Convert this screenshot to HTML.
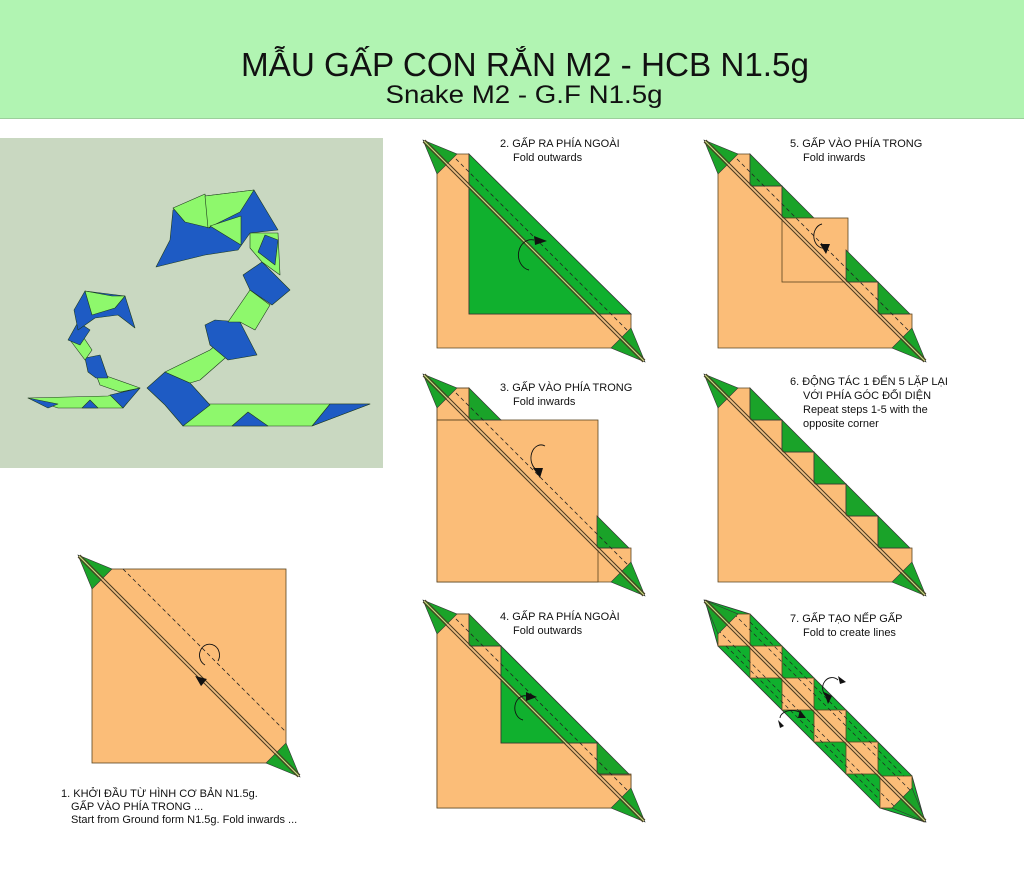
<!DOCTYPE html>
<html><head><meta charset="utf-8"><style>
html,body{margin:0;padding:0;background:#fff}
svg{display:block}
text{font-family:"Liberation Sans","Noto Sans CJK SC",sans-serif;fill:#111}
</style></head><body>
<svg width="1024" height="874" viewBox="0 0 1024 874" xmlns="http://www.w3.org/2000/svg">
<defs>
<g id="tips">
  <polygon points="-14,-14 20,0 0,20" fill="#1aa329" stroke="#333" stroke-width="0.6"/>
  <polygon points="208,208 194,174 174,194" fill="#1aa329" stroke="#333" stroke-width="0.6"/>
  <line x1="-12" y1="-14" x2="208" y2="206" stroke="#4a3a20" stroke-width="1"/>
  <line x1="-14" y1="-12" x2="206" y2="208" stroke="#4a3a20" stroke-width="1"/>
  <line x1="-13" y1="-13" x2="207" y2="207" stroke="#e8c08a" stroke-width="1"/>
</g>
<g id="stairs">
  <polygon points="0,0 32,0 32,32 64,32 64,64 96,64 96,96 128,96 128,128 160,128 160,160 194,160 194,194 0,194" fill="#fbbd78" stroke="#5a4420" stroke-width="0.8"/>
</g>
<polygon id="g0" points="32,0 32,32 64,32" fill="#1aa329" stroke="#333" stroke-width="0.7"/>
</defs>

<!-- header -->
<rect x="0" y="0" width="1024" height="118" fill="#b1f4b2"/>
<line x1="0" y1="118.5" x2="1024" y2="118.5" stroke="#9ccf9c" stroke-width="1"/>
<text x="525" y="76" font-size="33" text-anchor="middle" textLength="568" lengthAdjust="spacingAndGlyphs">MẪU GẤP CON RẮN M2 - HCB N1.5g</text>
<text x="524" y="103" font-size="25" text-anchor="middle" textLength="277" lengthAdjust="spacingAndGlyphs">Snake M2 - G.F N1.5g</text>

<!-- photo -->
<rect x="0" y="138" width="383" height="330" fill="#c9d8c1"/>
<g stroke="#1d3a1d" stroke-width="0.6" stroke-linejoin="round">
  <polygon points="183,426 205,404 330,404 370,404 312,426" fill="#8ef86c"/>
  <polygon points="312,426 330,404 370,404" fill="#1e5bc4"/>
  <polygon points="232,426 248,412 268,426" fill="#1e5bc4"/>
  <polygon points="147,388 165,372 190,383 210,405 183,426 165,405" fill="#1e5bc4"/>
  <polygon points="165,372 210,350 228,335 240,345 200,380 190,383" fill="#8ef86c"/>
  <polygon points="205,325 215,320 240,322 257,355 228,360 210,345" fill="#1e5bc4"/>
  <polygon points="228,322 250,290 270,305 255,330 240,322" fill="#8ef86c"/>
  <polygon points="243,275 262,262 290,290 272,305 250,290" fill="#1e5bc4"/>
  <polygon points="250,233 278,233 280,275 262,262 250,248" fill="#8ef86c"/>
  <polygon points="258,252 265,235 278,240 275,265" fill="#1e5bc4"/>
  <polygon points="173,210 205,196 254,190 278,230 250,233 238,250 205,255 156,267 170,240" fill="#1e5bc4"/>
  <polygon points="173,208 205,194 210,228 185,222" fill="#8ef86c"/>
  <polygon points="205,196 254,190 240,212 208,228" fill="#8ef86c"/>
  <polygon points="210,226 241,216 241,245" fill="#8ef86c"/>
  <polygon points="28,398 108,396 138,388 123,408 58,408" fill="#8ef86c"/>
  <polygon points="28,398 58,404 48,408" fill="#1e5bc4"/>
  <polygon points="82,408 90,400 98,408" fill="#1e5bc4"/>
  <polygon points="110,395 140,388 123,408" fill="#1e5bc4"/>
  <polygon points="95,372 112,378 140,388 120,392 100,385" fill="#8ef86c"/>
  <polygon points="85,358 100,355 108,378 96,378 88,372" fill="#1e5bc4"/>
  <polygon points="70,340 80,332 92,350 85,360" fill="#8ef86c"/>
  <polygon points="68,340 78,322 90,330 80,345" fill="#1e5bc4"/>
  <polygon points="74,310 85,291 125,296 135,328 118,315 95,318 78,330" fill="#1e5bc4"/>
  <polygon points="85,291 112,296 125,296 115,308 92,315" fill="#8ef86c"/>
</g>

<!-- STEP 1 -->
<g transform="translate(92,569)">
  <rect x="0" y="0" width="194" height="194" fill="#fbbd78" stroke="#5a4420" stroke-width="0.8"/>
  <line x1="31" y1="0" x2="194" y2="163" stroke="#222" stroke-width="0.8" stroke-dasharray="4,3"/>
  <use href="#tips"/>
  <path d="M125,102 A10,11 0 1 1 138,98" fill="none" stroke="#111" stroke-width="0.9" transform="translate(-12,-6)"/>
  <polygon points="110,85 121,90 114,96" fill="#111" transform="translate(-6,21) rotate(-10,115,90)"/>
</g>
<text x="61" y="797" font-size="11">1. KHỞI ĐẦU TỪ HÌNH CƠ BẢN N1.5g.</text>
<text x="71" y="810" font-size="11">GẤP VÀO PHÍA TRONG ...</text>
<text x="71" y="823" font-size="11">Start from Ground form N1.5g. Fold inwards ...</text>

<!-- STEP 2 -->
<g transform="translate(437,154)">
  <polygon points="0,0 32,0 32,160 194,160 194,194 0,194" fill="#fbbd78" stroke="#5a4420" stroke-width="0.8"/>
  <polygon points="32,0 194,160 32,160" fill="#10b02e" stroke="#333" stroke-width="0.8"/>
  <line x1="14" y1="0" x2="194" y2="180" stroke="#222" stroke-width="0.8" stroke-dasharray="4,3"/>
  <use href="#tips"/>
  <path d="M92,116 A12,14 0 0 1 97,86" fill="none" stroke="#111" stroke-width="0.9"/>
  <polygon points="97,82 110,87 98,91" fill="#111"/>
</g>
<text x="500" y="147" font-size="11">2. GẤP RA PHÍA NGOÀI</text>
<text x="513" y="161" font-size="11">Fold outwards</text>

<!-- STEP 5 -->
<g transform="translate(718,154)">
  <use href="#stairs"/>
  <use href="#g0"/>
  <use href="#g0" transform="translate(32,32)"/>
  <rect x="64" y="64" width="66" height="64" fill="#fbbd78" stroke="#5a4420" stroke-width="0.8"/>
  <use href="#g0" transform="translate(96,96)"/>
  <use href="#g0" transform="translate(128,128)"/>
  <line x1="14" y1="0" x2="194" y2="180" stroke="#222" stroke-width="0.8" stroke-dasharray="4,3"/>
  <use href="#tips"/>
  <path d="M104,70 A10,12 0 0 0 108,94" fill="none" stroke="#111" stroke-width="0.9"/>
  <polygon points="102,90 112,90 108,100" fill="#111"/>
</g>
<text x="790" y="147" font-size="11">5. GẤP VÀO PHÍA TRONG</text>
<text x="803" y="161" font-size="11">Fold inwards</text>

<!-- STEP 3 -->
<g transform="translate(437,388)">
  <use href="#stairs"/>
  <rect x="0" y="32" width="161" height="162" fill="#fbbd78" stroke="#5a4420" stroke-width="0.8"/>
  <use href="#g0"/>
  <use href="#g0" transform="translate(128,128)"/>
  <rect x="0" y="0" width="32" height="32" fill="none" stroke="#5a4420" stroke-width="0.6"/>
  <line x1="14" y1="0" x2="194" y2="180" stroke="#222" stroke-width="0.8" stroke-dasharray="4,3"/>
  <use href="#tips"/>
  <path d="M108,58 A10,13 0 0 0 100,82" fill="none" stroke="#111" stroke-width="0.9"/>
  <polygon points="96,80 106,80 103,90" fill="#111"/>
</g>
<text x="500" y="391" font-size="11">3. GẤP VÀO PHÍA TRONG</text>
<text x="513" y="405" font-size="11">Fold inwards</text>

<!-- STEP 6 -->
<g transform="translate(718,388)">
  <use href="#stairs"/>
  <use href="#g0"/>
  <use href="#g0" transform="translate(32,32)"/>
  <use href="#g0" transform="translate(64,64)"/>
  <use href="#g0" transform="translate(96,96)"/>
  <use href="#g0" transform="translate(128,128)"/>
  <use href="#tips"/>
</g>
<text x="790" y="385" font-size="11">6. ĐỘNG TÁC 1 ĐẾN 5 LẶP LẠI</text>
<text x="803" y="399" font-size="11">VỚI PHÍA GÓC ĐỐI DIỆN</text>
<text x="803" y="413" font-size="11">Repeat steps 1-5 with the</text>
<text x="803" y="427" font-size="11">opposite corner</text>

<!-- STEP 4 -->
<g transform="translate(437,614)">
  <use href="#stairs"/>
  <polygon points="0,0 32,0 32,32 64,32 64,129 161,129 161,161 194,161 194,194 0,194" fill="#fbbd78" stroke="#5a4420" stroke-width="0.8"/>
  <use href="#g0"/>
  <polygon points="64,32 161,129 64,129" fill="#10b02e" stroke="#333" stroke-width="0.8"/>
  <use href="#g0" transform="translate(128,128)"/>
  <line x1="14" y1="0" x2="194" y2="180" stroke="#222" stroke-width="0.8" stroke-dasharray="4,3"/>
  <use href="#tips"/>
  <path d="M86,106 A10,12 0 0 1 90,82" fill="none" stroke="#111" stroke-width="0.9"/>
  <polygon points="89,78 100,83 89,87" fill="#111"/>
</g>
<text x="500" y="620" font-size="11">4. GẤP RA PHÍA NGOÀI</text>
<text x="513" y="634" font-size="11">Fold outwards</text>

<!-- STEP 7 -->
<g transform="translate(718,614)">
  <polygon points="-13,-14 32,0 194,162 207,208 162,194 0,32" fill="#10b02e" stroke="#333" stroke-width="0.8"/>
  <g fill="#fbbd78" stroke="#5a4420" stroke-width="0.8">
    <rect x="0" y="0" width="32" height="32"/>
    <rect x="32" y="32" width="32" height="32"/>
    <rect x="64" y="64" width="32" height="32"/>
    <rect x="96" y="96" width="32" height="32"/>
    <rect x="128" y="128" width="32" height="32"/>
    <rect x="162" y="162" width="32" height="32"/>
  </g>
  <line x1="16" y1="0" x2="194" y2="178" stroke="#222" stroke-width="0.7" stroke-dasharray="4,3"/>
  <line x1="0" y1="16" x2="178" y2="194" stroke="#222" stroke-width="0.7" stroke-dasharray="4,3"/>
  <line x1="32" y1="8" x2="186" y2="162" stroke="#222" stroke-width="0.7" stroke-dasharray="4,3"/>
  <line x1="8" y1="32" x2="162" y2="186" stroke="#222" stroke-width="0.7" stroke-dasharray="4,3"/>
  <use href="#tips"/>
  <path d="M108,82 A9,10 0 0 1 120,66" fill="none" stroke="#111" stroke-width="0.9"/>
  <polygon points="106,78 114,82 110,90" fill="#111"/>
  <polygon points="120,62 128,68 122,70" fill="#111"/>
  <path d="M62,104 A12,8 0 0 1 84,100" fill="none" stroke="#111" stroke-width="0.9"/>
  <polygon points="82,96 88,104 80,104" fill="#111"/>
  <polygon points="60,106 66,112 62,114" fill="#111"/>
</g>
<text x="790" y="622" font-size="11">7. GẤP TẠO NẾP GẤP</text>
<text x="803" y="636" font-size="11">Fold to create lines</text>
</svg>
</body></html>
